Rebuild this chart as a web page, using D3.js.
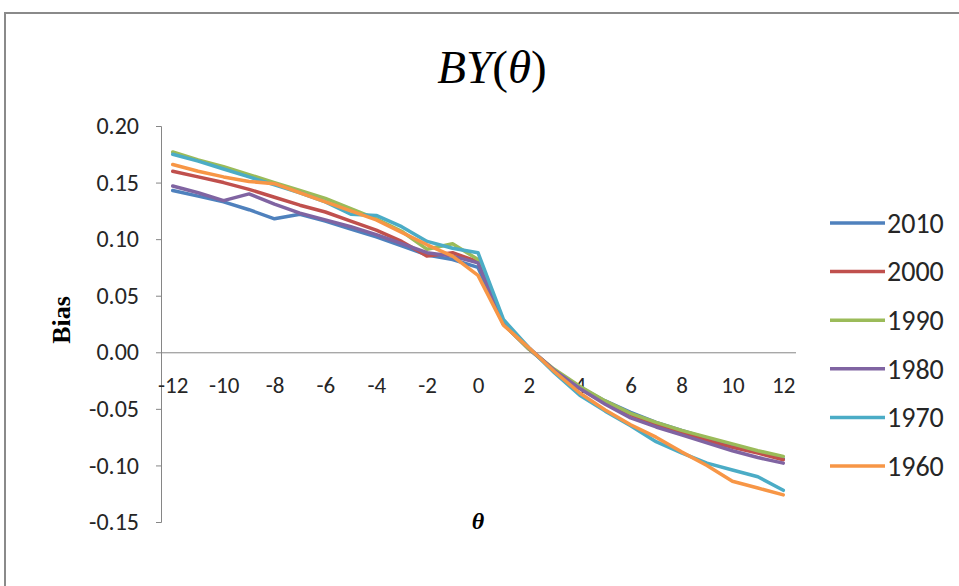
<!DOCTYPE html>
<html lang="en">
<head>
    <meta charset="UTF-8"/>
    <title>BY(theta) bias chart</title>
    <script src="https://d3js.org/d3.v7.min.js"></script>
    <style>
        body { margin: 0; background: #fff; }
        .axis text { font-family: "Carlito", "Lato", sans-serif; fill: #262626; }
        .axis path, .axis line { stroke: #868686; }
    </style>
</head>
<body>
    <div id="chart"></div>

    <script>
        // theta categories
        var thetas = d3.range(-12, 13);
        var xTicks = [-12, -10, -8, -6, -4, -2, 0, 2, 4, 6, 8, 10, 12];

        // bias values per decade
        var s2010 = [0.143, 0.138, 0.133, 0.126, 0.118, 0.122, 0.116, 0.109, 0.102, 0.094, 0.086, 0.082, 0.075,
                     0.025, 0.003, -0.016, -0.031, -0.043, -0.053, -0.062, -0.069, -0.076, -0.082, -0.088, -0.094];
        var s2000 = [0.160, 0.155, 0.150, 0.144, 0.137, 0.130, 0.124, 0.116, 0.108, 0.098, 0.085, 0.088, 0.080,
                     0.025, 0.003, -0.016, -0.032, -0.045, -0.055, -0.064, -0.071, -0.078, -0.084, -0.089, -0.095];
        var s1990 = [0.177, 0.170, 0.164, 0.157, 0.150, 0.143, 0.136, 0.127, 0.118, 0.107, 0.091, 0.096, 0.082,
                     0.025, 0.003, -0.015, -0.030, -0.043, -0.054, -0.062, -0.069, -0.075, -0.081, -0.087, -0.092];
        var s1980 = [0.147, 0.141, 0.134, 0.140, 0.131, 0.123, 0.117, 0.111, 0.104, 0.096, 0.088, 0.085, 0.079,
                     0.026, 0.004, -0.016, -0.032, -0.046, -0.058, -0.066, -0.073, -0.080, -0.087, -0.093, -0.098];
        var s1970 = [0.175, 0.169, 0.162, 0.155, 0.148, 0.141, 0.133, 0.122, 0.121, 0.111, 0.098, 0.092, 0.088,
                     0.029, 0.004, -0.018, -0.038, -0.052, -0.065, -0.079, -0.089, -0.098, -0.104, -0.110, -0.122];
        var s1960 = [0.166, 0.160, 0.155, 0.151, 0.149, 0.141, 0.133, 0.125, 0.117, 0.106, 0.095, 0.085, 0.068,
                     0.024, 0.004, -0.017, -0.036, -0.051, -0.064, -0.075, -0.088, -0.100, -0.114, -0.120, -0.126];

        var seriesNames = ["2010", "2000", "1990", "1980", "1970", "1960"];
        var seriesValues = [s2010, s2000, s1990, s1980, s1970, s1960];
        var colors = ["#4f81bd", "#c0504d", "#9bbb59", "#8064a2", "#4bacc6", "#f79646"];

        var yTicks = [0.20, 0.15, 0.10, 0.05, 0.00, -0.05, -0.10, -0.15];

        var width = 959;
        var height = 586;

        var svg = d3.select("#chart")
            .append("svg")
            .attr("width", width)
            .attr("height", height);

        // outer frame (only top and left edges are inside the picture)
        svg.append("path")
            .attr("d", "M5," + height + "V13H" + width)
            .attr("fill", "none")
            .attr("stroke", "#8a8a8a")
            .attr("stroke-width", 2);

        var xScale = d3.scalePoint()
            .domain(thetas)
            .range([160, 796])
            .padding(0.5);

        var yScale = d3.scaleLinear()
            .domain([-0.15, 0.20])
            .range([522, 126]);

        // y axis
        var yAxisG = svg.append("g")
            .attr("class", "axis")
            .attr("transform", "translate(161,0)")
            .call(d3.axisLeft(yScale)
                .tickValues(yTicks)
                .tickSize(5)
                .tickPadding(17)
                .tickSizeOuter(5)
                .tickFormat(function(d) { return d.toFixed(2); }));
        yAxisG.attr("font-size", 24);
        yAxisG.selectAll("text").style("font-size", "24px");

        // x axis through zero
        var xAxisG = svg.append("g")
            .attr("class", "axis")
            .attr("transform", "translate(0," + yScale(0) + ")")
            .call(d3.axisBottom(xScale)
                .tickValues(xTicks)
                .tickSize(0)
                .tickSizeOuter(0)
                .tickPadding(24));
        xAxisG.selectAll("text").style("font-size", "23px");
        xAxisG.select(".domain").attr("d", "M161,0.5H796");

        // lines
        var line = d3.line()
            .x(function(d, i) { return xScale(thetas[i]); })
            .y(function(d) { return yScale(d); });

        svg.selectAll("path.series")
            .data(seriesValues)
            .enter()
            .append("path")
            .attr("class", "series")
            .attr("d", line)
            .attr("fill", "none")
            .attr("stroke", function(d, i) { return colors[i]; })
            .attr("stroke-width", 3.5)
            .attr("stroke-linejoin", "round")
            .attr("stroke-linecap", "round");

        // title
        var title = svg.append("text")
            .attr("x", 492)
            .attr("y", 83)
            .attr("text-anchor", "middle")
            .attr("font-family", "'Liberation Serif', 'DejaVu Serif', serif")
            .attr("font-size", "47px")
            .attr("fill", "#000");
        title.append("tspan").attr("font-style", "italic").text("BY");
        title.append("tspan").text("(");
        title.append("tspan").attr("font-style", "italic").text("θ");
        title.append("tspan").text(")");

        // axis titles
        svg.append("text")
            .attr("text-anchor", "middle")
            .attr("transform", "translate(70,320)rotate(-90)")
            .attr("font-family", "'Liberation Serif', serif")
            .attr("font-weight", "bold")
            .attr("font-size", "26px")
            .text("Bias");

        svg.append("text")
            .attr("x", 478)
            .attr("y", 529)
            .attr("text-anchor", "middle")
            .attr("font-family", "'Liberation Serif', serif")
            .attr("font-weight", "bold")
            .attr("font-style", "italic")
            .attr("font-size", "24px")
            .text("θ");

        // legend
        var legend = svg.selectAll("g.legend")
            .data(seriesNames)
            .enter()
            .append("g")
            .attr("class", "legend")
            .attr("transform", function(d, i) { return "translate(830," + (223 + i * 48.6) + ")"; });

        legend.append("line")
            .attr("x1", 0)
            .attr("x2", 55)
            .attr("stroke", function(d, i) { return colors[i]; })
            .attr("stroke-width", 3.5);

        legend.append("text")
            .attr("x", 57)
            .attr("dy", "0.35em")
            .attr("font-family", "'Carlito', 'Lato', sans-serif")
            .attr("font-size", "28px")
            .attr("fill", "#262626")
            .text(function(d) { return d; });
    </script>
</body>
</html>
